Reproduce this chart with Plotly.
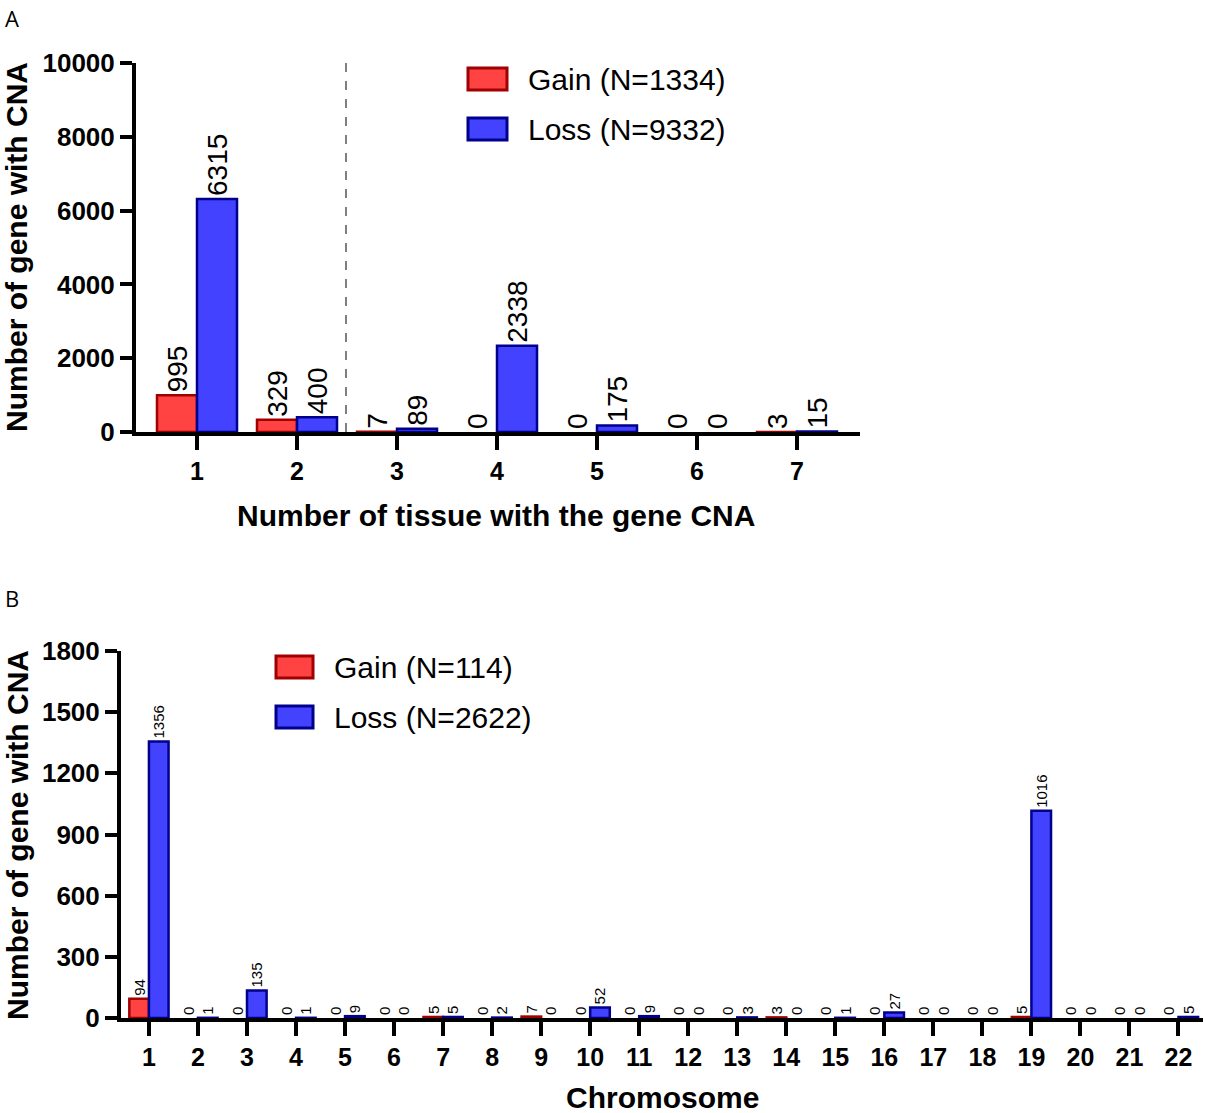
import plotly.graph_objects as go

# Panel A: genes with CNA by number of tissues
tissues = [1, 2, 3, 4, 5, 6, 7]
gain_a = [995, 329, 7, 0, 0, 0, 3]
loss_a = [6315, 400, 89, 2338, 175, 0, 15]

# Panel B: genes with CNA by chromosome
chromosomes = list(range(1, 23))
gain_b = [94, 0, 0, 0, 0, 0, 5, 0, 7, 0, 0, 0, 0, 3, 0, 0, 0, 0, 5, 0, 0, 0]
loss_b = [1356, 1, 135, 1, 9, 0, 5, 2, 0, 52, 9, 0, 3, 0, 1, 27, 0, 0, 1016, 0, 0, 5]

W, H = 1206, 1113
RED, RED_LINE = '#FF4242', '#A00000'
BLUE, BLUE_LINE = '#4242FF', '#00008B'
FONT = 'Liberation Sans, Arial, sans-serif'


def px(x):
    return x / W


def py(y):
    return 1 - y / H


fig = go.Figure()

# --- panel A bars ---
for name, vals, fc, lc in [('Gain', gain_a, RED, RED_LINE), ('Loss', loss_a, BLUE, BLUE_LINE)]:
    fig.add_trace(go.Bar(
        x=tissues, y=vals, name=name, offsetgroup=name,
        marker=dict(color=fc, line=dict(color=lc, width=[2.5 if v > 0 else 0 for v in vals])),
        text=vals, textposition='outside', textangle=-90,
        textfont=dict(family=FONT, size=28, color='black'),
        constraintext='none', cliponaxis=False,
        xaxis='x', yaxis='y', showlegend=False))

# --- panel B bars ---
for name, vals, fc, lc in [('Gain', gain_b, RED, RED_LINE), ('Loss', loss_b, BLUE, BLUE_LINE)]:
    fig.add_trace(go.Bar(
        x=chromosomes, y=vals, name=name, offsetgroup=name,
        marker=dict(color=fc, line=dict(color=lc, width=[2.5 if v > 0 else 0 for v in vals])),
        text=vals, textposition='outside', textangle=-90,
        textfont=dict(family=FONT, size=15, color='black'),
        constraintext='none', cliponaxis=False,
        xaxis='x2', yaxis='y2', showlegend=False))

axis_common = dict(showgrid=False, zeroline=False, showline=True, linecolor='black',
                   linewidth=4, ticks='outside', tickwidth=4, tickcolor='black',
                   tickformat='d',
                   tickfont=dict(family=FONT, size=26, color='black', weight='bold'))

fig.update_layout(
    width=W, height=H,
    margin=dict(l=0, r=0, t=0, b=0, autoexpand=False),
    plot_bgcolor='white', paper_bgcolor='white',
    barmode='group', bargap=0.2, bargroupgap=0,
    xaxis=dict(domain=[px(136), px(860)], range=[0.39, 7.63], tickvals=tissues,
               anchor='y', ticklen=14, **axis_common),
    yaxis=dict(domain=[py(432), py(63)], range=[0, 10000], dtick=2000,
               anchor='x', ticklen=12, **axis_common),
    xaxis2=dict(domain=[px(121), px(1203)], range=[0.43, 22.5], tickvals=chromosomes,
                anchor='y2', ticklen=14, **axis_common),
    yaxis2=dict(domain=[py(1018), py(651)], range=[0, 1800], dtick=300,
                anchor='x2', ticklen=12, **axis_common),
)
fig.update_xaxes(tickfont_size=25)

# dashed divider in panel A
fig.add_shape(type='line', xref='x', yref='y domain', x0=2.49, x1=2.49, y0=0, y1=1,
              line=dict(color='#555555', width=1.5, dash='dash'))

# legends drawn as boxes + text
legends = [
    (468, 507, [(68, 90, 'Gain (N=1334)'), (118, 140, 'Loss (N=9332)')]),
    (276, 313, [(656, 678, 'Gain (N=114)'), (706, 728, 'Loss (N=2622)')]),
]
for x0, x1, items in legends:
    for (y0, y1, label), (fc, lc) in zip(items, [(RED, RED_LINE), (BLUE, BLUE_LINE)]):
        fig.add_shape(type='rect', xref='paper', yref='paper',
                      x0=px(x0), x1=px(x1), y0=py(y1), y1=py(y0),
                      fillcolor=fc, line=dict(color=lc, width=3))
        fig.add_annotation(x=px(x1 + 19), y=py((y0 + y1) / 2), xref='paper', yref='paper',
                           text=label, showarrow=False, xanchor='left', yanchor='middle',
                           font=dict(family=FONT, size=30, color='black'))

# axis titles and panel letters
titles = [
    (496, 515, 0, 'Number of tissue with the gene CNA'),
    (17, 247, -90, 'Number of gene with CNA'),
    (662, 1097, 0, 'Chromosome'),
    (17, 835, -90, 'Number of gene with CNA'),
]
for x, y, ang, t in titles:
    fig.add_annotation(x=px(x), y=py(y), xref='paper', yref='paper', text=t,
                       showarrow=False, textangle=ang, xanchor='center', yanchor='middle',
                       font=dict(family=FONT, size=30, color='black', weight='bold'))

for x, y, t in [(12, 18, 'A'), (12, 598, 'B')]:
    fig.add_annotation(x=px(x), y=py(y), xref='paper', yref='paper', text=t,
                       showarrow=False, xanchor='center', yanchor='middle',
                       font=dict(family='Open Sans, DejaVu Sans, sans-serif', size=22, color='black'))

# page body has a default 8px margin; remove it so the figure fills the window
fig.write_html("out.html", config={'displayModeBar': False},
               post_script="document.body.style.margin='0';")
